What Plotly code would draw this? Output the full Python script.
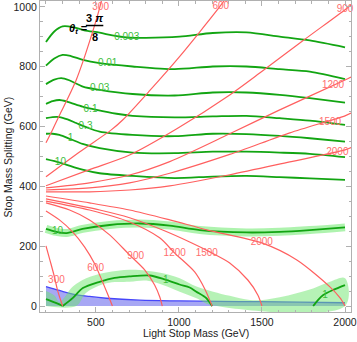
import plotly.graph_objects as go

# ---------------- green contours (ratio levels) ----------------
g0003_x = [200, 250, 300, 360, 430, 523, 600, 686, 800, 1004, 1204, 1407, 1607, 1788, 2000]
g0003_y = [883, 918, 935, 933, 922, 914, 905, 898, 897, 901, 913, 915, 901, 888, 865]
g001_x = [200, 250, 300, 350, 422, 523, 721, 975, 1204, 1407, 1607, 1788, 2000]
g001_y = [804, 828, 840, 836, 823, 812, 801, 792, 801, 801, 792, 784, 759]
g003_x = [200, 250, 292, 340, 422, 523, 721, 975, 1204, 1407, 1607, 1788, 2000]
g003_y = [742, 757, 762, 755, 734, 723, 709, 704, 714, 714, 706, 695, 680]
g01_x = [200, 240, 281, 330, 420, 505, 625, 721, 975, 1204, 1407, 1607, 1788, 2000]
g01_y = [676, 685, 689, 683, 667, 656, 643, 636, 631, 634, 636, 628, 620, 606]
g03_x = [200, 240, 281, 330, 382, 438, 523, 721, 975, 1204, 1407, 1607, 1788, 2000]
g03_y = [628, 632, 632, 624, 612, 599, 583, 572, 568, 576, 575, 569, 561, 550]
g1_x = [200, 240, 281, 348, 420, 523, 721, 975, 1204, 1407, 1607, 1788, 2000]
g1_y = [576, 576, 572, 558, 542, 528, 513, 511, 516, 516, 513, 509, 498]
g10_x = [200, 287, 420, 523, 721, 975, 1204, 1407, 1607, 1788, 2000]
g10_y = [491, 479, 456, 444, 435, 428, 433, 435, 431, 427, 422]
g10low_x = [200, 263, 324, 420, 583, 764, 945, 1126, 1407, 1607, 1788, 2000]
g10low_y = [258, 248, 244, 258, 271, 276, 269, 254, 246, 248, 254, 263]
g1lowA_x = [200, 251, 301]
g1lowA_y = [23, 12, 0]
g1lowB_x = [301, 362, 422, 523, 613, 703, 824, 914, 1004, 1065, 1105, 1166, 1196, 1201]
g1lowB_y = [0, 27, 60, 81, 94, 99, 102, 89, 72, 62, 48, 26, 3, 0]
g1lowC_x = [1808, 1837, 1869, 1929, 2000]
g1lowC_y = [0, 20, 37, 54, 70]
# uncertainty band around the lower "1" contour
band_up_x = [200, 251, 281, 362, 442, 563, 703, 804, 904, 1005, 1106, 1206, 1306, 1427, 1505, 1607, 1708, 1808, 1909, 2000]
band_up_y = [50, 35, 14, 65, 93, 112, 121, 118, 110, 93, 65, 48, 34, 20, 20, 29, 43, 59, 81, 93]
band_lo_x = [2000, 1196, 1106, 1005, 904, 804, 703, 563, 442, 382, 200]
band_lo_y = [0, 3, 26, 48, 70, 85, 81, 76, 44, 0, 0]

# ---------------- blue excluded region ----------------
blue_x = [200, 281, 362, 462, 563, 763, 1005, 1367, 1728, 2000]
blue_y = [65, 52, 40, 32, 26, 19.5, 17, 15, 13, 11]

# ---------------- red contours (mass levels) ----------------
r300u_x = [200, 239, 281, 330, 382, 426, 462, 499, 523, 535]
r300u_y = [546, 589, 638, 693, 756, 823, 884, 950, 997, 1024]
r600u_x = [200, 402, 593, 663, 824, 1004, 1126, 1246, 1276]
r600u_y = [432, 515, 589, 623, 720, 834, 917, 1001, 1024]
r900u_x = [200, 462, 703, 985, 1306, 1505, 1746, 2000, 2036]
r900u_y = [402, 456, 505, 592, 706, 787, 887, 991, 1007]
r1200u_x = [200, 462, 703, 945, 1306, 1607, 2000, 2036]
r1200u_y = [395, 412, 438, 483, 576, 656, 756, 766]
r1500u_x = [200, 462, 703, 945, 1306, 1668, 2000, 2036]
r1500u_y = [388, 395, 412, 444, 507, 579, 636, 645]
r2000u_x = [200, 462, 703, 945, 1306, 1668, 2000, 2036]
r2000u_y = [382, 382, 388, 402, 439, 482, 522, 530]

r300l_x = [200, 227, 251, 269, 300]
r300l_y = [201, 147, 97, 54, 0]
r600l_x = [200, 281, 360, 432, 493, 541, 571, 600]
r600l_y = [318, 288, 248, 198, 141, 80, 40, 0]
r900l_x = [200, 342, 462, 583, 703, 794, 854, 885, 900]
r900l_y = [345, 321, 288, 238, 171, 121, 70, 30, 0]
r1200l_x = [200, 462, 703, 884, 975, 1095, 1156, 1200]
r1200l_y = [351, 321, 281, 228, 177, 114, 57, 0]
r1500l_x = [200, 523, 703, 902, 1065, 1186, 1306, 1415, 1475, 1500]
r1500l_y = [358, 321, 295, 254, 214, 181, 144, 87, 37, 0]
r2000l_x = [200, 462, 703, 945, 1174, 1499, 1710, 1909, 1970, 2000]
r2000l_y = [368, 345, 321, 288, 254, 211, 154, 64, 27, 0]

# ---------------- contour labels ----------------
green_lbl_text = ["0.003", "0.01", "0.03", "0.1", "0.3", "1", "10", "10", "1", "1"]
green_lbl_x = [686, 571, 523, 468, 438, 348, 287, 269, 921, 1879]
green_lbl_y = [897, 810, 726, 656, 599, 559, 479, 248, 87, 34]
red_lbl_text = ["300", "600", "900", "1200", "1500", "2000", "300", "600", "900", "1200", "1500", "2000"]
red_lbl_x = [529, 1252, 2000, 1928, 1910, 1954, 263, 499, 740, 975, 1168, 1499]
red_lbl_y = [999, 1001, 991, 736, 614, 515, 87, 127, 164, 177, 177, 211]

x_ticks = [500, 1000, 1500, 2000]
y_ticks = [0, 200, 400, 600, 800, 1000]

GREEN = "rgb(18,165,18)"
GREEN_LBL = "rgb(60,190,60)"
RED = "rgb(255,95,95)"
RED_LBL = "rgb(255,110,110)"
FONT = "Liberation Sans, Arial, sans-serif"

fig = go.Figure()

fig.add_trace(go.Scatter(x=blue_x, y=blue_y, mode="lines", fill="tozeroy",
                         fillcolor="rgba(95,95,235,0.55)",
                         line=dict(color="rgb(70,70,250)", width=1.3, shape="spline"),
                         hoverinfo="skip"))
fig.add_trace(go.Scatter(x=band_up_x + band_lo_x, y=band_up_y + band_lo_y, mode="lines",
                         fill="toself", fillcolor="rgba(110,230,110,0.5)",
                         line=dict(width=0, shape="spline"), hoverinfo="skip"))
fig.add_trace(go.Scatter(x=g10low_x, y=g10low_y, mode="lines",
                         line=dict(color="rgba(120,235,120,0.6)", width=8, shape="spline"),
                         hoverinfo="skip"))

for gx, gy in [(g0003_x, g0003_y), (g001_x, g001_y), (g003_x, g003_y), (g01_x, g01_y),
               (g03_x, g03_y), (g1_x, g1_y), (g10_x, g10_y), (g10low_x, g10low_y),
               (g1lowA_x, g1lowA_y), (g1lowB_x, g1lowB_y), (g1lowC_x, g1lowC_y)]:
    fig.add_trace(go.Scatter(x=gx, y=gy, mode="lines",
                             line=dict(color=GREEN, width=1.8, shape="spline", smoothing=0.8),
                             hoverinfo="skip"))

for rx, ry in [(r300u_x, r300u_y), (r600u_x, r600u_y), (r900u_x, r900u_y), (r1200u_x, r1200u_y),
               (r1500u_x, r1500u_y), (r2000u_x, r2000u_y), (r300l_x, r300l_y), (r600l_x, r600l_y),
               (r900l_x, r900l_y), (r1200l_x, r1200l_y), (r1500l_x, r1500l_y), (r2000l_x, r2000l_y)]:
    fig.add_trace(go.Scatter(x=rx, y=ry, mode="lines",
                             line=dict(color=RED, width=1.2, shape="spline", smoothing=0.8),
                             hoverinfo="skip"))

fig.add_trace(go.Scatter(x=green_lbl_x, y=green_lbl_y, mode="text", text=green_lbl_text,
                         textfont=dict(color=GREEN_LBL, size=10, family=FONT),
                         textposition="middle center", hoverinfo="skip", cliponaxis=False))
fig.add_trace(go.Scatter(x=red_lbl_x, y=red_lbl_y, mode="text", text=red_lbl_text,
                         textfont=dict(color=RED_LBL, size=10, family=FONT),
                         textposition="middle center", hoverinfo="skip", cliponaxis=False))

# theta label
fig.add_annotation(x=458, y=928, xref="x", yref="y", text="<b><i>θ</i><sub><i>t</i></sub> =</b>",
                   showarrow=False, xanchor="right", yanchor="middle",
                   font=dict(size=11, color="black", family=FONT))
fig.add_annotation(x=493, y=963, xref="x", yref="y", text="<b>3 <i>π</i></b>",
                   showarrow=False, xanchor="center", yanchor="middle",
                   font=dict(size=11, color="black", family=FONT))
fig.add_annotation(x=493, y=898, xref="x", yref="y", text="<b>8</b>",
                   showarrow=False, xanchor="center", yanchor="middle",
                   font=dict(size=11, color="black", family=FONT))
fig.add_shape(type="line", x0=440, x1=545, y0=938, y1=938, xref="x", yref="y",
              line=dict(color="black", width=1.5))

# axis titles
fig.add_annotation(x=0.5, y=-0.068, xref="paper", yref="paper", text="Light Stop Mass (GeV)",
                   showarrow=False, xanchor="center", yanchor="middle",
                   font=dict(size=10.5, color="#222", family=FONT))
fig.add_annotation(x=-0.103, y=0.5, xref="paper", yref="paper", text="Stop Mass Splitting (GeV)",
                   showarrow=False, xanchor="center", yanchor="middle", textangle=-90,
                   font=dict(size=10.5, color="#222", family=FONT))

axis_common = dict(showgrid=False, zeroline=False, showline=True, linecolor="#b0b0b0",
                   linewidth=1, mirror="allticks", ticks="inside", ticklen=5,
                   tickcolor="#b0b0b0", tickfont=dict(size=10.5, color="#222", family=FONT),
                   automargin=False)
fig.update_xaxes(range=[164, 2036], tickvals=x_ticks,
                 minor=dict(dtick=100, ticks="inside", ticklen=2.5, tickcolor="#b0b0b0"),
                 **axis_common)
fig.update_yaxes(range=[-20, 1020], tickvals=y_ticks,
                 minor=dict(dtick=50, ticks="inside", ticklen=2.5, tickcolor="#b0b0b0"),
                 **axis_common)

fig.update_layout(width=357, height=342, margin=dict(l=40, r=6, t=1, b=30),
                  paper_bgcolor="white", plot_bgcolor="white", showlegend=False,
                  font=dict(family=FONT))

fig.write_html("out.html", config={"displayModeBar": False},
               post_script="document.body.style.margin='0px';document.body.style.overflow='hidden';")
